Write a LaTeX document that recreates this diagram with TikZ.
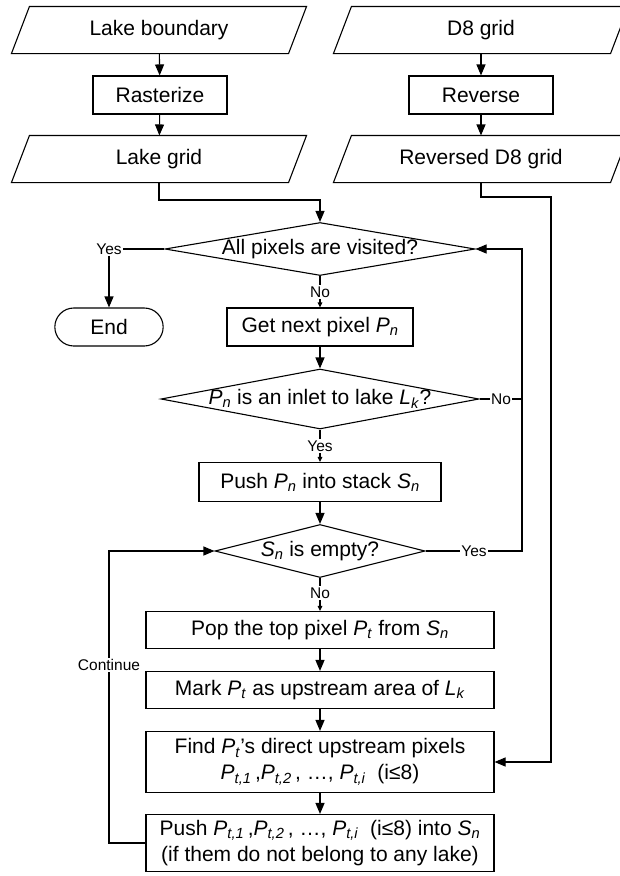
\documentclass[tikz,border=0pt]{standalone}
\usepackage{fontspec}
\setmainfont{Liberation Sans}
\usetikzlibrary{arrows.meta,shapes.geometric,shapes.misc}

\newcommand{\gs}[2]{\textit{#1}\textsubscript{\textit{#2}}}

\tikzset{
  daten/.style={rectangle, minimum width=276pt, minimum height=46pt, inner sep=0pt,
    append after command={\pgfextra{\draw ([xshift=-9pt]\tikzlastnode.south west)
      -- ([xshift=-9pt]\tikzlastnode.south east) -- ([xshift=9pt]\tikzlastnode.north east)
      -- ([xshift=9pt]\tikzlastnode.north west) -- cycle;}}},
  schritt/.style={draw, rectangle, minimum height=38pt, inner sep=2pt, align=center},
  frage/.style={draw, diamond, inner xsep=-3pt, inner ysep=0pt},
  marke/.style={font=\fontsize{15.5}{18}\selectfont, inner sep=1pt},
  klein/.style={-{Triangle[length=5pt,width=4.5pt]}}
}

\begin{document}
\begin{tikzpicture}[x=1pt, y=-1pt, line width=1.1pt,
    >={Triangle[length=11pt,width=9pt]},
    font=\fontsize{21}{26}\selectfont]
  \useasboundingbox (0,0) rectangle (620,876);
  % Eingaben links
  \node[daten] (lb) at (159,30) {Lake boundary};
  \node[schritt, minimum width=134pt] (rast) at (160,95) {Rasterize};
  \node[daten] (lg) at (159,159) {Lake grid};
  % Eingaben rechts
  \node[daten] (d8) at (481,30) {D8 grid};
  \node[schritt, minimum width=144pt] (rev) at (481,95) {Reverse};
  \node[daten] (rd8) at (481,159) {Reversed D8 grid};
  % Hauptschleife
  \node[frage, aspect=5.85, minimum width=310pt, minimum height=53pt] (q1) at (320,249) {All pixels are visited?};
  \node[marke] (ja1) at (109,249) {Yes};
  \node[draw, rounded rectangle, minimum width=115pt, minimum height=38pt] (ende) at (109,327) {End};
  \node[marke] (nein1) at (320,292) {No};
  \node[schritt, minimum width=186pt] (next) at (320,327) {Get next pixel \gs{P}{n}};
  \node[frage, aspect=5.3, minimum width=318pt, minimum height=60pt, inner xsep=-7pt] (q2) at (320,399) {\gs{P}{n} is an inlet to lake \gs{L}{k}?};
  \node[marke] (nein2) at (501,399) {No};
  \node[marke] (ja2) at (320,446) {Yes};
  \node[schritt, minimum width=242pt, minimum height=39pt] (push) at (320,482) {Push \gs{P}{n}\ into stack \gs{S}{n}};
  \node[frage, aspect=3.96, minimum width=210pt, minimum height=53pt] (q3) at (320,551) {\gs{S}{n}\ is empty?};
  \node[marke] (ja3) at (474,551) {Yes};
  \node[marke] (nein3) at (320,593) {No};
  % innere Schleife
  \node[schritt, minimum width=348pt, minimum height=37pt] (pop) at (320,630) {Pop the top pixel \gs{P}{t}\ from \gs{S}{n}};
  \node[schritt, minimum width=348pt, minimum height=37pt] (mark) at (320,690) {Mark \gs{P}{t}\ as upstream area of \gs{L}{k}};
  \node[schritt, minimum width=348pt, minimum height=61pt] (find) at (320,762)
    {Find \gs{P}{t}’s direct upstream pixels\\ \gs{P}{t,1}\,,\gs{P}{t,2}\,, …, \gs{P}{t,i}\ \ (i≤8)};
  \node[schritt, minimum width=348pt, minimum height=57pt] (push2) at (320,843)
    {Push \gs{P}{t,1}\,,\gs{P}{t,2}\,, …, \gs{P}{t,i}\ \ (i≤8) into \gs{S}{n}\\ (if them do not belong to any lake)};
  \node[marke] (weiter) at (109,665) {Continue};
  % Hilfspunkte
  \coordinate (knick) at (320,200);
  \coordinate (rechts) at (551,197);
  \coordinate (rueck) at (522,249);
  % Pfeile oben
  \draw[->] (lb) -- (rast);
  \draw[->] (rast) -- (lg);
  \draw[->] (d8) -- (rev);
  \draw[->] (rev) -- (rd8);
  \draw[->] (lg.south) |- (knick) -- (q1.north);
  \draw[->] (rd8.south) |- (rechts) |- (find.east);
  % Verzweigungen
  \draw (q1.west) -- (ja1.east);
  \draw[->] (ja1.south) -- (ende.north);
  \draw (q1.south) -- (nein1.north);
  \draw[klein] (nein1.south) -- (next.north);
  \draw[->] (next) -- (q2);
  \draw (q2.east) -- (nein2.west);
  \draw (nein2.east) -- (rueck |- nein2);
  \draw (q2.south) -- (ja2.north);
  \draw[klein] (ja2.south) -- (push.north);
  \draw[->] (push) -- (q3);
  \draw (q3.east) -- (ja3.west);
  \draw[->] (ja3.east) -| (rueck) -- (q1.east);
  \draw (q3.south) -- (nein3.north);
  \draw[klein] (nein3.south) -- (pop.north);
  \draw[->] (pop) -- (mark);
  \draw[->] (mark) -- (find);
  \draw[->] (find) -- (push2);
  \draw (push2.west) -| (weiter.south);
  \draw[->] (weiter.north) |- (q3.west);
\end{tikzpicture}
\end{document}
